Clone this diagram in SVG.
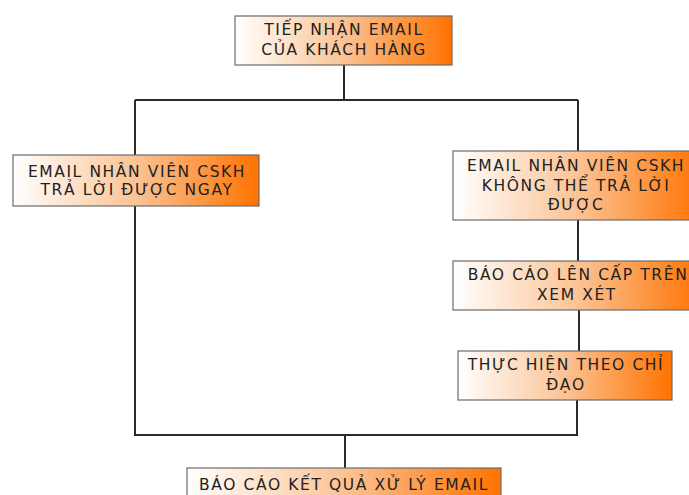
<svg xmlns="http://www.w3.org/2000/svg" width="689" height="495" viewBox="0 0 689 495">
<defs>
<linearGradient id="g" x1="0" y1="0" x2="1" y2="0">
<stop offset="0" stop-color="#ffffff"/>
<stop offset="0.5" stop-color="#fbc394"/>
<stop offset="1" stop-color="#ff7200"/>
</linearGradient>
</defs>
<style>
.box{fill:url(#g);stroke:#6b6b6b;stroke-width:1.2}
.t{font-family:"DejaVu Sans","Noto Sans",sans-serif;font-size:15.5px;fill:#222222;text-anchor:middle;dominant-baseline:central;letter-spacing:1.6px}
.c{fill:none;stroke:#2a2a2a;stroke-width:2}
</style>
<rect width="689" height="495" fill="#ffffff"/>
<g id="connectors">
<path class="c" d="M344 65 V100 M135 100 H578 M135 100 V155 M578 100 V151 M135 206 V435 H578 M578 220 V261 M579 310 V351 M577 400 V435 M345 435 V468"/>
</g>
<g id="n1">
<rect class="box" x="235" y="16" width="217" height="49"/>
<text class="t" x="344" y="30">TIẾP NHẬN EMAIL</text>
<text class="t" x="344" y="50">CỦA KHÁCH HÀNG</text>
</g>
<g id="n2">
<rect class="box" x="13" y="155" width="246" height="51"/>
<text class="t" x="137" y="172">EMAIL NHÂN VIÊN CSKH</text>
<text class="t" x="137" y="190">TRẢ LỜI ĐƯỢC NGAY</text>
</g>
<g id="n3">
<rect class="box" x="453" y="151" width="250" height="69"/>
<text class="t" x="576" y="166">EMAIL NHÂN VIÊN CSKH</text>
<text class="t" x="576" y="186">KHÔNG THỂ TRẢ LỜI</text>
<text class="t" x="576" y="205">ĐƯỢC</text>
</g>
<g id="n4">
<rect class="box" x="453" y="261" width="250" height="49"/>
<text class="t" x="578" y="275">BÁO CÁO LÊN CẤP TRÊN</text>
<text class="t" x="577" y="295">XEM XÉT</text>
</g>
<g id="n5">
<rect class="box" x="458" y="351" width="214" height="49"/>
<text class="t" x="566" y="365">THỰC HIỆN THEO CHỈ</text>
<text class="t" x="566" y="385">ĐẠO</text>
</g>
<g id="n6">
<rect class="box" x="187" y="468" width="314" height="40"/>
<text class="t" x="344" y="485">BÁO CÁO KẾT QUẢ XỬ LÝ EMAIL</text>
</g>
</svg>
